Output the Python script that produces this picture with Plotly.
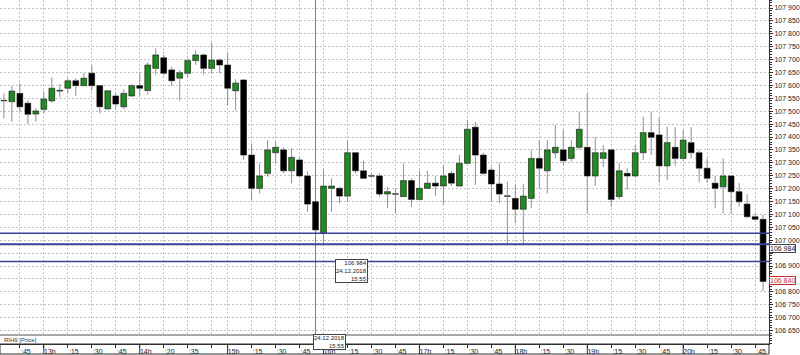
import plotly.graph_objects as go

def session(start, end):
    h, m = map(int, start.split(":"))
    eh, em = map(int, end.split(":"))
    out, t = [], h * 60 + m
    while t <= eh * 60 + em:
        out.append(f"{t // 60:02d}:{t % 60:02d}")
        t += 5
    return out

# 5-minute candles, 24.12.2018 (clearing breaks 14:05 and 18:45-18:55 have no candles)
times = session("12:35", "14:00") + session("14:10", "18:40") + session("19:00", "20:50")

opens = [107540, 107537, 107569, 107531, 107489, 107507, 107540, 107578, 107589, 107618,
         107599, 107647, 107599, 107509, 107559, 107517, 107559, 107599, 107580, 107666,
         107707, 107660, 107628, 107647, 107696, 107718, 107666, 107698, 107679, 107579,
         107621, 107330, 107201, 107259, 107339, 107350, 107269, 107311, 107249, 107149,
         107029, 107201, 107201, 107171, 107339, 107269, 107248, 107249, 107179, 107178,
         107169, 107231, 107158, 107201, 107221, 107210, 107259, 107210, 107298, 107438,
         107330, 107272, 107218, 107172, 107162, 107120, 107162, 107317, 107269, 107339,
         107350, 107317, 107360, 107360, 107249, 107317, 107350, 107169, 107259, 107249,
         107339, 107417, 107408, 107288, 107360, 107317, 107378, 107339, 107279, 107221,
         107207, 107249, 107188, 107140, 107091, 107081]
highs = [107569, 107598, 107608, 107543, 107512, 107576, 107631, 107605, 107628, 107628,
         107647, 107679, 107600, 107580, 107569, 107585, 107605, 107647, 107690, 107744,
         107718, 107672, 107660, 107705, 107737, 107724, 107766, 107705, 107727, 107624,
         107622, 107376, 107298, 107388, 107382, 107360, 107356, 107321, 107266, 107150,
         107272, 107240, 107207, 107388, 107340, 107308, 107259, 107259, 107207, 107201,
         107298, 107240, 107269, 107269, 107249, 107288, 107269, 107330, 107466, 107458,
         107339, 107285, 107298, 107227, 107214, 107218, 107350, 107388, 107388, 107446,
         107427, 107388, 107498, 107569, 107399, 107369, 107351, 107300, 107279, 107369,
         107479, 107498, 107476, 107440, 107438, 107427, 107438, 107350, 107317, 107249,
         107317, 107250, 107221, 107179, 107102, 107098]
lows = [107472, 107459, 107498, 107450, 107459, 107492, 107533, 107554, 107569, 107560,
        107598, 107579, 107492, 107505, 107511, 107507, 107556, 107559, 107565, 107640,
        107640, 107598, 107541, 107631, 107679, 107640, 107647, 107647, 107523, 107503,
        107311, 107156, 107182, 107246, 107298, 107259, 107221, 107246, 107110, 107032,
        106984, 107110, 107143, 107149, 107259, 107238, 107240, 107169, 107124, 107104,
        107168, 107130, 107157, 107200, 107171, 107140, 107210, 107209, 107297, 107214,
        107253, 107149, 107143, 106984, 107066, 106984, 107124, 107201, 107182, 107317,
        107291, 107304, 107352, 107102, 107210, 107283, 107130, 107158, 107195, 107248,
        107311, 107330, 107223, 107233, 107288, 107308, 107317, 107223, 107223, 107124,
        107104, 107102, 107130, 107085, 107078, 106804]
closes = [107542, 107578, 107517, 107488, 107501, 107547, 107589, 107581, 107618, 107599,
          107628, 107599, 107517, 107579, 107528, 107569, 107599, 107589, 107679, 107718,
          107647, 107618, 107649, 107696, 107718, 107666, 107698, 107679, 107589, 107609,
          107330, 107201, 107249, 107350, 107360, 107269, 107321, 107249, 107140, 107040,
          107210, 107210, 107171, 107339, 107269, 107240, 107250, 107179, 107188, 107180,
          107231, 107158, 107201, 107221, 107210, 107249, 107221, 107298, 107430, 107330,
          107259, 107218, 107179, 107170, 107120, 107171, 107317, 107279, 107350, 107360,
          107308, 107360, 107430, 107249, 107339, 107339, 107158, 107269, 107249, 107339,
          107417, 107399, 107288, 107378, 107317, 107388, 107339, 107279, 107240, 107201,
          107249, 107188, 107149, 107091, 107081, 106840]

tick_times = ["12:45", "13:00", "13:15", "13:30", "13:45", "14:00", "14:20", "14:35", "14:50",
              "15:00", "15:15", "15:30", "15:45", "16:00", "16:15", "16:30", "16:45", "17:00",
              "17:15", "17:30", "17:45", "18:00", "18:15", "18:30", "19:00", "19:15", "19:30",
              "19:45", "20:00", "20:15", "20:30", "20:45"]
tick_text = [":45", "13h", ":15", ":30", ":45", "14h", ":20", ":35", "", "15h", ":15", ":30",
             ":45", "16h", ":15", ":30", ":45", "17h", ":15", ":30", ":45", "18h", ":15", ":30",
             "19h", ":15", ":30", ":45", "20h", ":15", ":30", ":45"]
price_ticks = list(range(106650, 107901, 50))
hidden_price_labels = [106950, 106850]   # covered by the level / last-price tags

levels = [107027, 106984, 106917]
level_widths = [1.5, 2, 1.5]
cursor_time = "15:55"
cursor_price = 106984
cursor_date = "24.12.2018"
last_price = closes[-1]
symbol_label = "RIH9 [Price]"

FONT = "Liberation Sans, Arial, sans-serif"
GREEN = "#1e8c1e"


def fmt(v):
    return f"{v:,}".replace(",", " ")


price_text = ["" if v in hidden_price_labels else fmt(v) for v in price_ticks]

# wicks (drawn outside the body so bodies stay clean)
wx, wy = [], []
for t, o, h, l, c in zip(times, opens, highs, lows, closes):
    top, bot = max(o, c), min(o, c)
    wx += [t, t, None, t, t, None]
    wy += [top, h, None, bot, l, None]

fig = go.Figure()
fig.add_trace(go.Scatter(x=wx, y=wy, mode="lines", line=dict(color="#8f8f8f", width=1),
                         hoverinfo="skip", showlegend=False))
fig.add_trace(go.Bar(
    x=times,
    y=[abs(c - o) for o, c in zip(opens, closes)],
    base=[min(o, c) for o, c in zip(opens, closes)],
    width=0.72,
    marker=dict(color=[GREEN if c >= o else "#000000" for o, c in zip(opens, closes)],
                line=dict(color="#0a0a0a", width=0.6)),
    hoverinfo="skip", showlegend=False))

H_PLOT = 344.0
shapes = []
# crosshair
shapes.append(dict(type="line", xref="x", yref="paper", x0=cursor_time, x1=cursor_time,
                   y0=0, y1=1, line=dict(color="#7a7a7a", width=1), layer="below"))
# level lines
for lv, w in zip(levels, level_widths):
    shapes.append(dict(type="line", xref="paper", yref="y", x0=0, x1=1, y0=lv, y1=lv,
                       line=dict(color="#40409c", width=w), layer="above"))
# symbol band below the price area
shapes.append(dict(type="rect", xref="paper", yref="paper", x0=0, x1=1, y0=0, y1=9 / H_PLOT,
                   fillcolor="white", line=dict(width=0), layer="above"))
shapes.append(dict(type="line", xref="paper", yref="paper", x0=0, x1=1, y0=9 / H_PLOT,
                   y1=9 / H_PLOT, line=dict(color="#505050", width=1), layer="above"))
# time label band frame
shapes.append(dict(type="rect", xref="paper", yref="paper", x0=0, x1=1, y0=-10 / H_PLOT, y1=0,
                   line=dict(color="#303030", width=1), layer="above"))
# hour separators
for tt, lab in zip(tick_times, tick_text):
    if lab.endswith("h"):
        shapes.append(dict(type="line", xref="x", yref="paper", x0=tt, x1=tt,
                           y0=-10 / H_PLOT, y1=0, line=dict(color="#303030", width=1),
                           layer="above"))

annotations = [
    dict(text=symbol_label, xref="paper", yref="paper", x=0.002, y=4.5 / H_PLOT,
         xanchor="left", yanchor="middle", showarrow=False,
         font=dict(family=FONT, size=6, color="#333")),
    dict(text=fmt(cursor_price) + "<br>" + cursor_date + "<br>" + cursor_time,
         xref="x", yref="y", x=cursor_time, xshift=19, y=106927, xanchor="left", yanchor="top",
         showarrow=False, align="right", bgcolor="white", bordercolor="#444", borderwidth=1,
         borderpad=0, font=dict(family=FONT, size=6, color="#222")),
    dict(text=cursor_date + "<br>" + cursor_time, xref="x", yref="paper", x=cursor_time,
         xshift=-3, y=10 / H_PLOT, xanchor="left", yanchor="top", showarrow=False,
         align="right", bgcolor="white", bordercolor="#444", borderwidth=1, borderpad=0,
         font=dict(family=FONT, size=6, color="#222")),
    dict(text=fmt(cursor_price), xref="paper", yref="y", x=1, xshift=0,
         y=106968, xanchor="left", yanchor="middle", showarrow=False, bgcolor="white",
         bordercolor="#444", borderwidth=1, borderpad=0,
         font=dict(family=FONT, size=7, color="#222")),
    dict(text=fmt(last_price), xref="paper", yref="y", x=1, xshift=0,
         y=last_price + 3, xanchor="left", yanchor="middle", showarrow=False, bgcolor="white",
         bordercolor="#c03030", borderwidth=1, borderpad=0,
         font=dict(family=FONT, size=7, color="#c03030")),
]

fig.update_layout(
    width=800, height=355,
    margin=dict(l=0, r=25, t=0, b=11),
    paper_bgcolor="white", plot_bgcolor="white",
    separators=". ",
    barmode="overlay",
    showlegend=False, hovermode=False,
    shapes=shapes, annotations=annotations,
    font=dict(family=FONT, size=7, color="#222"),
)
fig.update_xaxes(
    type="category", categoryorder="array", categoryarray=times,
    range=[-0.484, 95.74],
    tickmode="array", tickvals=tick_times, ticktext=tick_text,
    ticks="outside", ticklen=3, tickcolor="#303030", tickwidth=1,
    ticklabelshift=6, ticklabelstandoff=-2,
    tickfont=dict(family=FONT, size=7, color="#222"),
    showgrid=True, gridcolor="#bdbdbd", gridwidth=1, griddash="2px,2px",
    showline=True, linecolor="#303030", linewidth=1,
    zeroline=False, fixedrange=True,
)
fig.update_yaxes(
    side="right", range=[106597.7, 107931],
    tickmode="array", tickvals=price_ticks, ticktext=price_text,
    ticks="outside", ticklen=3, tickcolor="#303030",
    minor=dict(ticks="outside", ticklen=2, dtick=10, tick0=106650, tickcolor="#303030", showgrid=False),
    tickfont=dict(family=FONT, size=7, color="#222"),
    showgrid=True, gridcolor="#bdbdbd", gridwidth=1, griddash="2px,2px",
    showline=True, linecolor="#303030", linewidth=1,
    zeroline=False, fixedrange=True,
)

fig.write_html("out.html")
